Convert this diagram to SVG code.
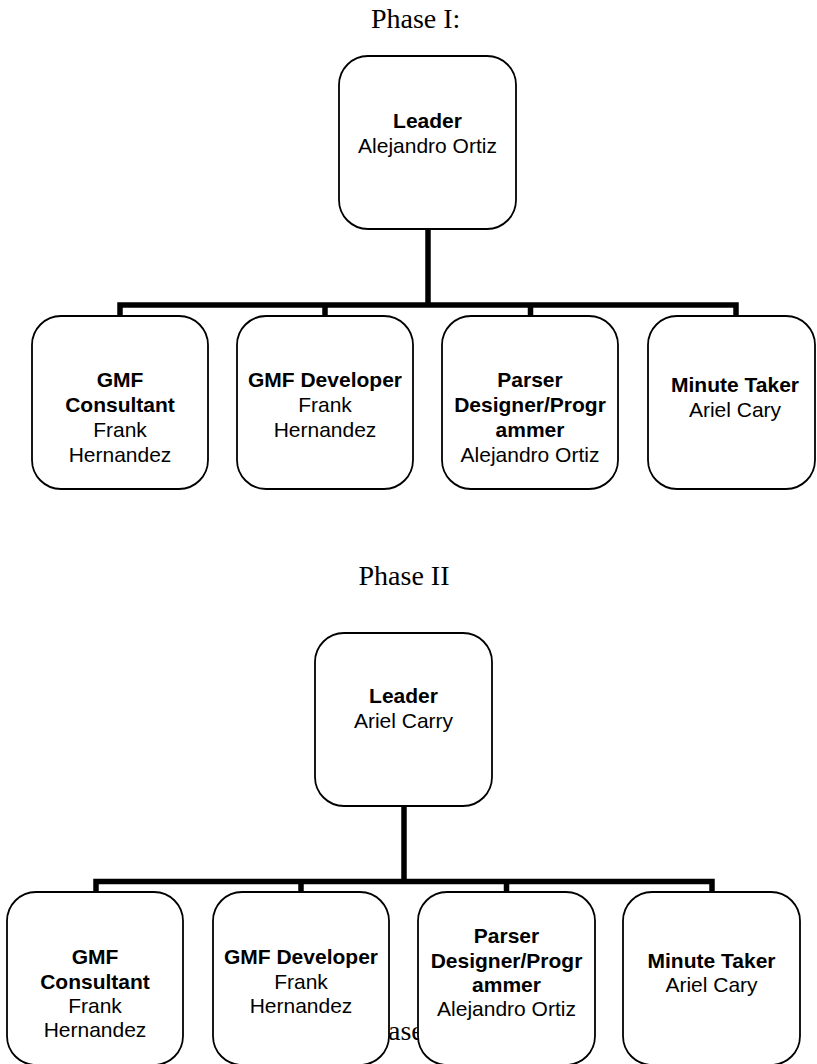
<svg xmlns="http://www.w3.org/2000/svg" width="817" height="1064" viewBox="0 0 817 1064">
  <style>
    .title { font-family: "Liberation Serif", "Times New Roman", serif; font-size: 28px; fill: #000; }
    .box { fill: #fff; stroke: #000; stroke-width: 1.8; }
    .role { font-family: "Liberation Sans", Arial, sans-serif; font-size: 21px; font-weight: bold; fill: #000; text-anchor: middle; }
    .name { font-family: "Liberation Sans", Arial, sans-serif; font-size: 21px; fill: #000; text-anchor: middle; }
    .wire { fill: none; stroke: #000; stroke-width: 5.5; stroke-linejoin: miter; stroke-linecap: butt; }
  </style>
  <rect width="817" height="1064" fill="#fff"/>

  <!-- Section headings -->
  <text class="title" x="415.7" y="28" text-anchor="middle">Phase I:</text>
  <text class="title" x="404" y="585" text-anchor="middle">Phase II</text>
  <text class="title" x="388" y="1040">ase</text>

  <!-- Connectors -->
  <g id="connectors">
    <!-- Phase I -->
    <path class="wire" d="M428,229 V305"/>
    <path class="wire" d="M120,316 V305 H736 V316"/>
    <path class="wire" d="M325,305 V316"/>
    <path class="wire" d="M530.5,305 V316"/>
    <!-- Phase II -->
    <path class="wire" d="M404,806 V881.5"/>
    <path class="wire" d="M96,892 V881.5 H712 V892"/>
    <path class="wire" d="M301,881.5 V892"/>
    <path class="wire" d="M506.5,881.5 V892"/>
  </g>

  <!-- Phase I nodes -->
  <g id="p1-leader">
    <rect class="box" x="339" y="56" width="177" height="173" rx="29"/>
    <text class="role" x="427.5" y="128">Leader</text>
    <text class="name" x="427.5" y="153">Alejandro Ortiz</text>
  </g>
  <g id="p1-gmf-consultant">
    <rect class="box" x="32" y="316" width="176" height="173" rx="29"/>
    <text class="role" x="120" y="387">GMF</text>
    <text class="role" x="120" y="412">Consultant</text>
    <text class="name" x="120" y="437">Frank</text>
    <text class="name" x="120" y="461.5">Hernandez</text>
  </g>
  <g id="p1-gmf-developer">
    <rect class="box" x="237" y="316" width="176" height="173" rx="29"/>
    <text class="role" x="325" y="387">GMF Developer</text>
    <text class="name" x="325" y="412">Frank</text>
    <text class="name" x="325" y="436.5">Hernandez</text>
  </g>
  <g id="p1-parser">
    <rect class="box" x="442" y="316" width="176" height="173" rx="29"/>
    <text class="role" x="530" y="387">Parser</text>
    <text class="role" x="530" y="412">Designer/Progr</text>
    <text class="role" x="530" y="437">ammer</text>
    <text class="name" x="530" y="461.5">Alejandro Ortiz</text>
  </g>
  <g id="p1-minute-taker">
    <rect class="box" x="648" y="316" width="167" height="173" rx="29"/>
    <text class="role" x="735" y="391.5">Minute Taker</text>
    <text class="name" x="735" y="416.5">Ariel Cary</text>
  </g>

  <!-- Phase II nodes -->
  <g id="p2-leader">
    <rect class="box" x="315" y="633" width="177" height="173" rx="29"/>
    <text class="role" x="403.5" y="703">Leader</text>
    <text class="name" x="403.5" y="728">Ariel Carry</text>
  </g>
  <g id="p2-gmf-consultant">
    <rect class="box" x="7" y="892" width="176" height="173" rx="29"/>
    <text class="role" x="95" y="964">GMF</text>
    <text class="role" x="95" y="989">Consultant</text>
    <text class="name" x="95" y="1013">Frank</text>
    <text class="name" x="95" y="1037">Hernandez</text>
  </g>
  <g id="p2-gmf-developer">
    <rect class="box" x="213" y="892" width="176" height="173" rx="29"/>
    <text class="role" x="301" y="964">GMF Developer</text>
    <text class="name" x="301" y="989">Frank</text>
    <text class="name" x="301" y="1013">Hernandez</text>
  </g>
  <g id="p2-parser">
    <rect class="box" x="418" y="892" width="177" height="173" rx="29"/>
    <text class="role" x="506.5" y="943">Parser</text>
    <text class="role" x="506.5" y="968">Designer/Progr</text>
    <text class="role" x="506.5" y="992">ammer</text>
    <text class="name" x="506.5" y="1016">Alejandro Ortiz</text>
  </g>
  <g id="p2-minute-taker">
    <rect class="box" x="623" y="892" width="177" height="173" rx="29"/>
    <text class="role" x="711.5" y="968">Minute Taker</text>
    <text class="name" x="711.5" y="992">Ariel Cary</text>
  </g>
</svg>
